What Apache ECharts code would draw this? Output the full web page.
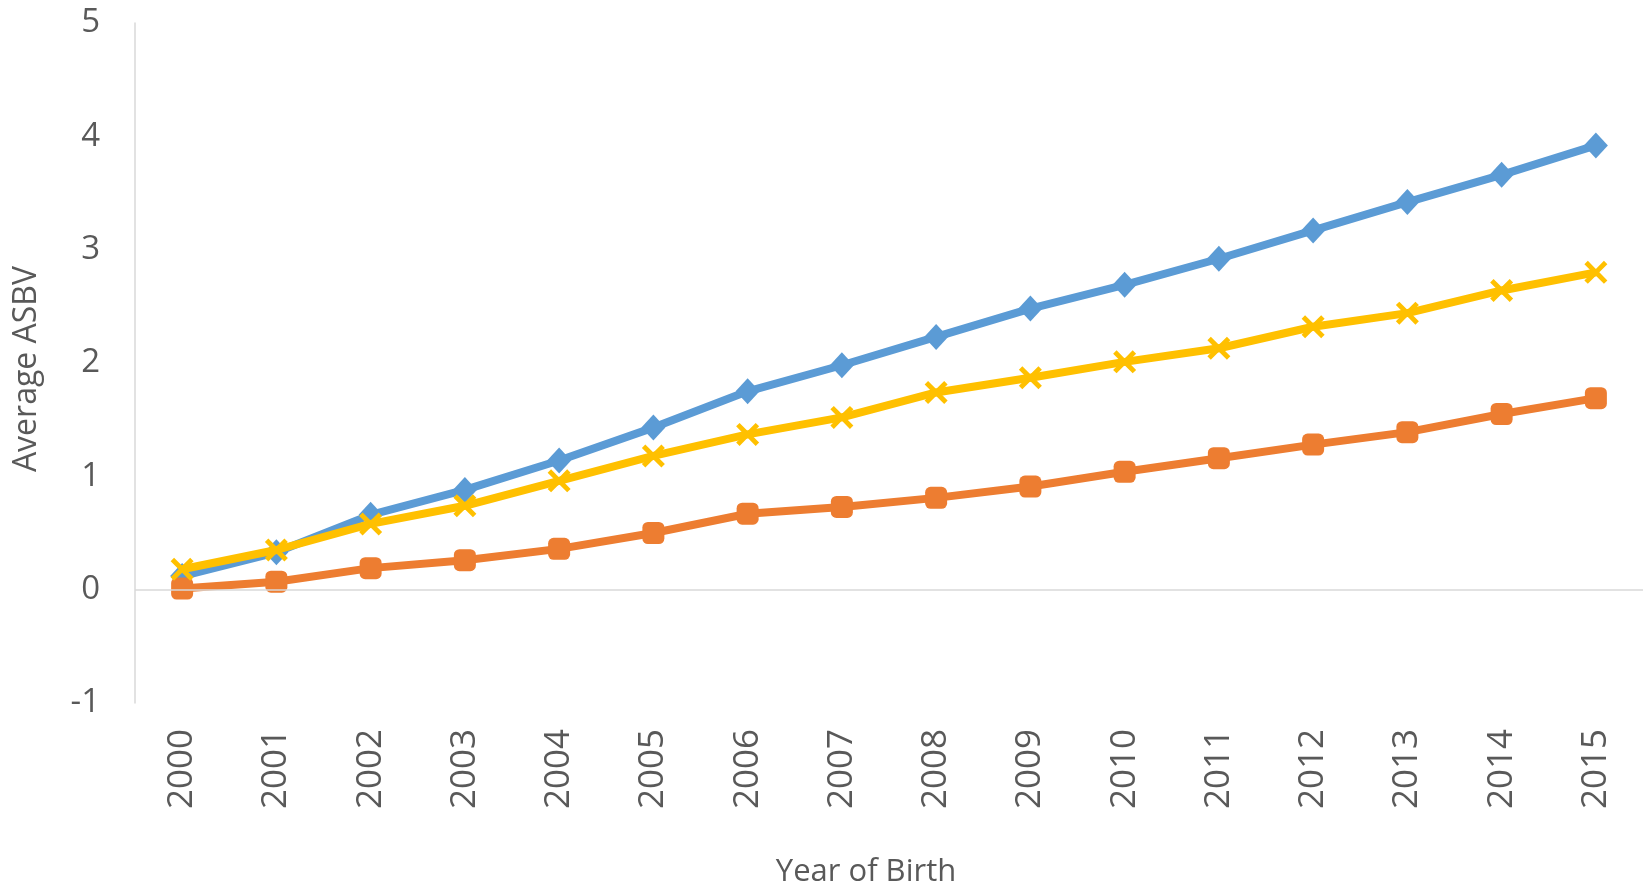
<!DOCTYPE html>
<html>
<head>
<meta charset="utf-8">
<script src="https://cdn.jsdelivr.net/npm/echarts@6/dist/echarts.min.js"></script>
<style>
html,body{margin:0;padding:0;background:#fff;}
#chart{width:1644px;height:888px;}
</style>
</head>
<body>
<div id="chart"></div>
<script>
const years = ['2000','2001','2002','2003','2004','2005','2006','2007','2008','2009','2010','2011','2012','2013','2014','2015'];
const blueValues   = [0.12, 0.33, 0.66, 0.88, 1.14, 1.43, 1.75, 1.98, 2.23, 2.48, 2.69, 2.92, 3.17, 3.42, 3.66, 3.92];
const orangeValues = [0.01, 0.07, 0.19, 0.26, 0.36, 0.50, 0.67, 0.73, 0.81, 0.91, 1.04, 1.16, 1.28, 1.39, 1.55, 1.69];
const yellowValues = [0.18, 0.35, 0.58, 0.74, 0.96, 1.18, 1.37, 1.52, 1.74, 1.87, 2.01, 2.13, 2.32, 2.44, 2.64, 2.80];
const yTicks = {min: -1, max: 5, interval: 1};

const FONT = '"Open Sans", "Liberation Sans", sans-serif';
const TXT = '#595959';
const xPath = 'path://M3,0 L10,7 L17,0 L20,3 L13,10 L20,17 L17,20 L10,13 L3,20 L0,17 L7,10 L0,3 Z';

const chart = echarts.init(document.getElementById('chart'), null, {renderer: 'canvas'});
chart.setOption({
  animation: false,
  backgroundColor: '#ffffff',
  grid: {left: 135, right: 1, top: 23, bottom: 185, containLabel: false, outerBoundsMode: 'none'},
  xAxis: {
    type: 'category',
    data: years,
    boundaryGap: true,
    axisLine: {show: false},
    axisTick: {show: false},
    axisLabel: {rotate: 90, margin: 26, color: TXT, fontFamily: FONT, fontSize: 35},
    name: 'Year of Birth',
    nameLocation: 'middle',
    nameGap: 154,
    nameTextStyle: {color: TXT, fontFamily: FONT, fontSize: 31, padding: [0, 46, 0, 0]}
  },
  yAxis: {
    type: 'value',
    min: yTicks.min, max: yTicks.max, interval: yTicks.interval,
    axisLine: {show: true, lineStyle: {color: '#D9D9D9', width: 1.5}},
    axisTick: {show: false},
    splitLine: {show: false},
    axisLabel: {margin: 35, color: TXT, fontFamily: FONT, fontSize: 33},
    name: 'Average ASBV',
    nameLocation: 'middle',
    nameRotate: 90,
    nameGap: 92,
    nameTextStyle: {color: TXT, fontFamily: FONT, fontSize: 32, padding: [0, 12, 0, 0]}
  },
  series: [
    {
      name: 'Blue', type: 'line', data: blueValues,
      symbol: 'diamond', symbolSize: [24, 26],
      lineStyle: {color: '#5B9BD5', width: 8},
      itemStyle: {color: '#5B9BD5'},
      markLine: {
        silent: true, symbol: 'none', label: {show: false},
        lineStyle: {color: '#D9D9D9', width: 1.5, type: 'solid'},
        data: [{yAxis: 0}]
      },
      z: 2
    },
    {
      name: 'Orange', type: 'line', data: orangeValues,
      symbol: 'roundRect', symbolSize: 22,
      lineStyle: {color: '#ED7D31', width: 8},
      itemStyle: {color: '#ED7D31'},
      z: 3
    },
    {
      name: 'Yellow', type: 'line', data: yellowValues,
      symbol: xPath, symbolSize: 23,
      lineStyle: {color: '#FFC000', width: 8},
      itemStyle: {color: '#FFC000'},
      z: 4
    }
  ]
});
</script>
</body>
</html>
